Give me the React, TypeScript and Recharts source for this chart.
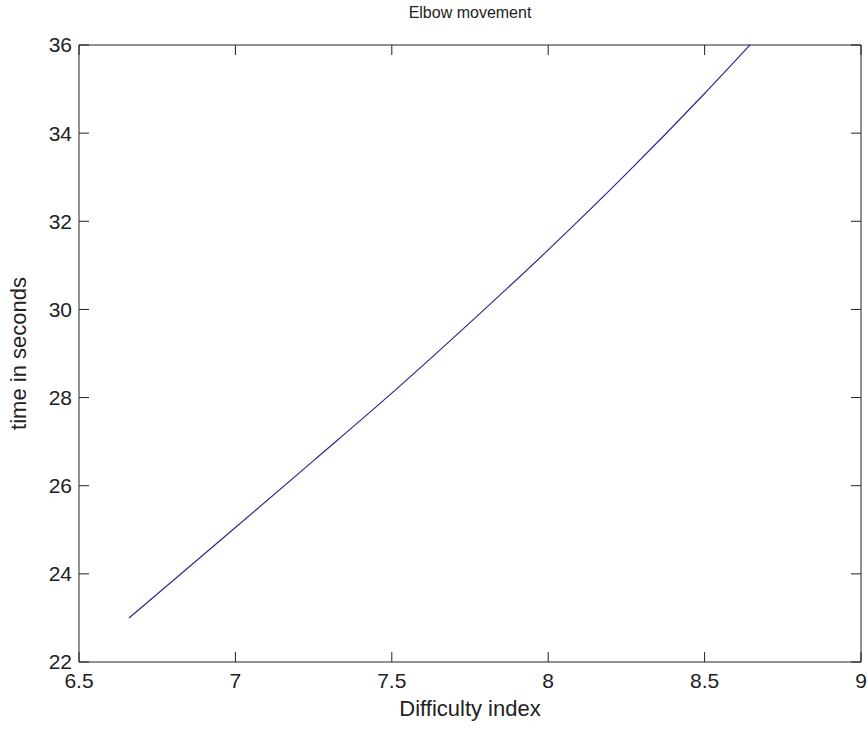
import React from "react";
import { LineChart, Line, XAxis, YAxis, Label } from "recharts";

const difficulty = [6.66, 7.0, 7.25, 7.5, 7.75, 8.0, 8.25, 8.5, 8.645];
const timeSeconds = [23.0, 25.05, 26.57, 28.1, 29.7, 31.35, 33.08, 34.9, 36.0];
const xTicks = [6.5, 7, 7.5, 8, 8.5, 9];
const yTicks = [22, 24, 26, 28, 30, 32, 34, 36];

const data = difficulty.map((d, i) => ({ d, t: timeSeconds[i] }));

const font = "'Liberation Sans', Arial, sans-serif";
const ink = "#222";
const tickStyle = { fill: ink, fontSize: 21, fontFamily: font };
const noLabel = () => "";
const xDomain: [number, number] = [6.5, 9];
const yDomain: [number, number] = [22, 36];

const App: React.FC = () => {
  return (
    <div style={{ position: "absolute", left: 0, top: 0, background: "#fff" }}>
      <LineChart
        width={868}
        height={731}
        data={data}
        margin={{ top: 45, right: 7, bottom: 19, left: 19 }}
      >
        {/* labelled axes */}
        <XAxis
          xAxisId="bottom"
          dataKey="d"
          type="number"
          domain={xDomain}
          ticks={xTicks}
          height={50}
          tickSize={0}
          tickMargin={11}
          tickLine={false}
          tick={tickStyle}
          axisLine={{ stroke: ink }}
        >
          <Label
            content={({ viewBox }: any) => (
              <text
                x={viewBox.x + viewBox.width / 2}
                y={viewBox.y + 54}
                textAnchor="middle"
                fontSize={22}
                fontFamily={font}
                fill={ink}
              >
                Difficulty index
              </text>
            )}
          />
        </XAxis>
        <YAxis
          yAxisId="left"
          type="number"
          domain={yDomain}
          ticks={yTicks}
          width={60}
          tickSize={0}
          tickMargin={7}
          tickLine={false}
          tick={tickStyle}
          axisLine={{ stroke: ink }}
        >
          <Label
            content={({ viewBox }: any) => {
              const cx = viewBox.x - 1;
              const cy = viewBox.y + viewBox.height / 2;
              return (
                <text
                  x={cx}
                  y={cy}
                  textAnchor="middle"
                  dominantBaseline="central"
                  transform={`rotate(-90, ${cx}, ${cy})`}
                  fontSize={22}
                  fontFamily={font}
                  fill={ink}
                >
                  time in seconds
                </text>
              );
            }}
          />
        </YAxis>

        {/* inward tick marks on all four sides */}
        <XAxis
          xAxisId="bottomIn"
          dataKey="d"
          type="number"
          domain={xDomain}
          ticks={xTicks}
          mirror
          tickSize={10}
          tickFormatter={noLabel}
          axisLine={false}
          tickLine={{ stroke: ink }}
        />
        <YAxis
          yAxisId="leftIn"
          type="number"
          domain={yDomain}
          ticks={yTicks}
          mirror
          tickSize={10}
          tickFormatter={noLabel}
          axisLine={false}
          tickLine={{ stroke: ink }}
        />
        <XAxis
          xAxisId="top"
          orientation="top"
          dataKey="d"
          type="number"
          domain={xDomain}
          ticks={xTicks}
          mirror
          tickSize={10}
          tickFormatter={noLabel}
          axisLine={{ stroke: ink }}
          tickLine={{ stroke: ink }}
        >
          <Label
            content={({ viewBox }: any) => (
              <text
                x={viewBox.x + viewBox.width / 2}
                y={viewBox.y - 27}
                textAnchor="middle"
                fontSize={16}
                fontFamily={font}
                fill={ink}
              >
                Elbow movement
              </text>
            )}
          />
        </XAxis>
        <YAxis
          yAxisId="right"
          orientation="right"
          type="number"
          domain={yDomain}
          ticks={yTicks}
          mirror
          tickSize={10}
          tickFormatter={noLabel}
          axisLine={{ stroke: ink }}
          tickLine={{ stroke: ink }}
        />

        {/* invisible series so the tick-only axes are drawn */}
        <Line
          xAxisId="bottomIn"
          yAxisId="leftIn"
          dataKey="t"
          stroke="none"
          dot={false}
          legendType="none"
          isAnimationActive={false}
        />
        <Line
          xAxisId="top"
          yAxisId="right"
          dataKey="t"
          stroke="none"
          dot={false}
          legendType="none"
          isAnimationActive={false}
        />

        <Line
          xAxisId="bottom"
          yAxisId="left"
          type="monotone"
          dataKey="t"
          stroke="#2a2a8c"
          strokeWidth={1.2}
          dot={false}
          isAnimationActive={false}
        />
      </LineChart>
    </div>
  );
};

export default App;
